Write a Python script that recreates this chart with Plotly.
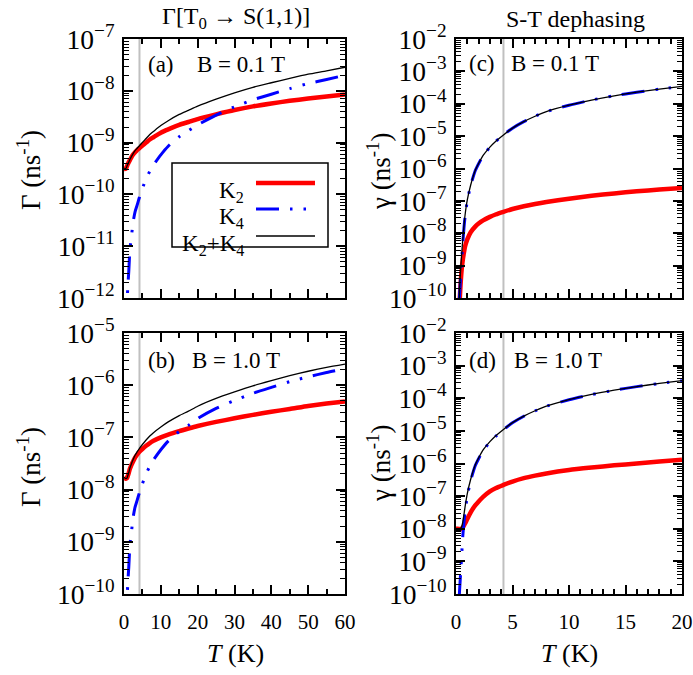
import plotly.graph_objects as go

# ---------------- data ----------------
T_left = [0, 0.5, 0.8, 1.0, 1.3, 1.6, 2, 2.5, 3, 3.5, 4.2, 5, 6, 7, 8, 10, 12, 15, 17.5,
          20, 25, 30, 35, 40, 45, 50, 55, 60]

# (a) Gamma, B = 0.1 T
gamma_a_K2 = [3.1e-10, 3.15e-10, 3.5e-10, 3.8e-10, 4.2e-10, 4.6e-10, 5.2e-10, 5.9e-10, 6.5e-10,
              7.1e-10, 7.8e-10, 8.8e-10, 1.0e-9, 1.15e-9, 1.27e-9, 1.55e-9, 1.8e-9, 2.2e-9,
              2.5e-9, 2.85e-9, 3.5e-9, 4.25e-9, 5.0e-9, 5.7e-9, 6.4e-9, 7.1e-9, 7.8e-9, 8.5e-9]
gamma_a_K4 = [None, 1e-14, 5e-13, 1.5e-12, 3.3e-12, 8.5e-12, 1.5e-11, 3.0e-11, 4.6e-11,
              6.0e-11, 8.8e-11, 1.3e-10, 2.0e-10, 2.8e-10, 3.7e-10, 5.8e-10, 8.5e-10, 1.3e-9,
              1.7e-9, 2.2e-9, 3.4e-9, 4.9e-9, 6.7e-9, 8.6e-9, 1.1e-8, 1.38e-8, 1.65e-8, 2.0e-8]
gamma_a_sum = [3.1e-10, 3.15e-10, 3.5e-10, 3.8e-10, 4.2e-10, 4.7e-10, 5.35e-10, 6.2e-10, 7.0e-10,
               7.7e-10, 8.7e-10, 1.01e-9, 1.2e-9, 1.43e-9, 1.64e-9, 2.13e-9, 2.65e-9, 3.5e-9,
               4.2e-9, 5.05e-9, 6.9e-9, 9.15e-9, 1.17e-8, 1.43e-8, 1.74e-8, 2.09e-8, 2.43e-8,
               2.85e-8]

# (b) Gamma, B = 1.0 T
gamma_b_K2 = [1.73e-8, 1.62e-8, 1.65e-8, 1.8e-8, 2.1e-8, 2.5e-8, 2.95e-8, 3.5e-8, 4.1e-8,
              4.6e-8, 5.3e-8, 6.0e-8, 6.9e-8, 7.8e-8, 8.6e-8, 1.0e-7, 1.13e-7, 1.32e-7,
              1.48e-7, 1.65e-7, 1.98e-7, 2.32e-7, 2.7e-7, 3.1e-7, 3.5e-7, 4.0e-7, 4.45e-7, 4.9e-7]
gamma_b_K4 = [None, 1e-12, 5e-11, 1.5e-10, 3.3e-10, 8.5e-10, 1.5e-9, 3.0e-9, 4.6e-9,
              6.0e-9, 8.8e-9, 1.3e-8, 2.0e-8, 2.8e-8, 3.7e-8, 5.8e-8, 8.5e-8, 1.3e-7,
              1.7e-7, 2.3e-7, 3.6e-7, 5.1e-7, 7.0e-7, 9.1e-7, 1.17e-6, 1.45e-6, 1.75e-6, 2.05e-6]
gamma_b_sum = [1.73e-8, 1.62e-8, 1.66e-8, 1.82e-8, 2.13e-8, 2.59e-8, 3.1e-8, 3.8e-8, 4.56e-8,
               5.2e-8, 6.18e-8, 7.3e-8, 8.9e-8, 1.06e-7, 1.23e-7, 1.58e-7, 1.98e-7, 2.62e-7,
               3.18e-7, 3.95e-7, 5.58e-7, 7.42e-7, 9.7e-7, 1.22e-6, 1.52e-6, 1.85e-6, 2.2e-6,
               2.54e-6]

T_right = [0, 0.2, 0.3, 0.35, 0.4, 0.5, 0.6, 0.7, 0.8, 1.0, 1.3, 1.7, 2.0, 2.4, 3.0, 3.5,
           4.2, 5, 6, 7, 8, 10, 12, 14, 16, 18, 20]

# (c) S-T dephasing, B = 0.1 T
deph_c_K2 = [None, 1e-12, 5e-11, 1.2e-10, 2.5e-10, 7.4e-10, 1.5e-9, 2.5e-9, 3.9e-9, 6.5e-9,
             1.08e-8, 1.6e-8, 2.0e-8, 2.5e-8, 3.2e-8, 3.8e-8, 4.6e-8, 5.6e-8, 6.8e-8, 8.0e-8,
             9.2e-8, 1.17e-7, 1.44e-7, 1.7e-7, 1.97e-7, 2.23e-7, 2.5e-7]
deph_c_K4 = [None, 1e-12, 1e-10, 2e-10, 4e-10, 1.5e-9, 5e-9, 1.4e-8, 3.2e-8, 1.0e-7, 3.0e-7,
             8.5e-7, 1.4e-6, 2.5e-6, 4.55e-6, 6.8e-6, 1.09e-5, 1.76e-5, 2.8e-5, 4.1e-5, 5.7e-5,
             9.0e-5, 1.3e-4, 1.76e-4, 2.27e-4, 2.83e-4, 3.45e-4]
deph_c_sum = [None, 2e-12, 1.5e-10, 3.2e-10, 6.5e-10, 2.2e-9, 6.5e-9, 1.65e-8, 3.6e-8, 1.07e-7,
              3.1e-7, 8.7e-7, 1.42e-6, 2.53e-6, 4.59e-6, 6.84e-6, 1.09e-5, 1.77e-5, 2.81e-5,
              4.11e-5, 5.71e-5, 9.01e-5, 1.3e-4, 1.76e-4, 2.27e-4, 2.83e-4, 3.45e-4]

# (d) S-T dephasing, B = 1.0 T
deph_d_K2 = [1.0e-8, 1.0e-8, 9.8e-9, 9.8e-9, 9.8e-9, 1.0e-8, 1.1e-8, 1.25e-8, 1.45e-8, 2.0e-8,
             3.2e-8, 5.2e-8, 6.8e-8, 9.5e-8, 1.4e-7, 1.75e-7, 2.2e-7, 2.8e-7, 3.55e-7, 4.25e-7,
             4.95e-7, 6.3e-7, 7.5e-7, 8.8e-7, 1.0e-6, 1.15e-6, 1.3e-6]
deph_d_K4 = [None, 1e-12, 1e-10, 2e-10, 4e-10, 1.5e-9, 6e-9, 1.5e-8, 3.2e-8, 1.0e-7, 3.0e-7,
             8.5e-7, 1.4e-6, 2.5e-6, 4.55e-6, 6.8e-6, 1.09e-5, 1.76e-5, 2.8e-5, 4.1e-5, 5.7e-5,
             9.0e-5, 1.3e-4, 1.76e-4, 2.27e-4, 2.83e-4, 3.45e-4]
deph_d_sum = [1.0e-8, 1.0e-8, 9.9e-9, 1.0e-8, 1.02e-8, 1.15e-8, 1.6e-8, 2.65e-8, 4.65e-8,
              1.2e-7, 3.3e-7, 9.0e-7, 1.47e-6, 2.6e-6, 4.69e-6, 6.98e-6, 1.11e-5, 1.79e-5,
              2.84e-5, 4.14e-5, 5.75e-5, 9.06e-5, 1.31e-4, 1.77e-4, 2.28e-4, 2.84e-4, 3.46e-4]

T_liquid_He = 4.2
series_names = ["K<sub>2</sub>", "K<sub>4</sub>", "K<sub>2</sub>+K<sub>4</sub>"]

# ---------------- layout helpers ----------------
FONT = "Liberation Serif"
W, H = 693, 675
ML, MR, MT, MB = 124, 11, 39, 81
PW, PH = W - ML - MR, H - MT - MB


def px(x):
    return (x - ML) / PW


def py(y):
    return 1 - (y - MT) / PH


RED = "#ff0000"
BLUE = "#0000ff"
BLUE_DASH = "23px,11px,2.5px,11px,2.5px,11px"

fig = go.Figure()

panels = [
    ("x", "y", T_left, gamma_a_K2, gamma_a_K4, gamma_a_sum, [px(124), px(345)], [py(298), py(39)], [0, 60], [-12, -7], 10, 5, False),
    ("x2", "y2", T_right, deph_c_K2, deph_c_K4, deph_c_sum, [px(456), px(682)], [py(298), py(39)], [0, 20], [-10, -2], 5, 1, False),
    ("x3", "y3", T_left, gamma_b_K2, gamma_b_K4, gamma_b_sum, [px(124), px(345)], [py(594), py(333)], [0, 60], [-10, -5], 10, 5, True),
    ("x4", "y4", T_right, deph_d_K2, deph_d_K4, deph_d_sum, [px(456), px(682)], [py(594), py(333)], [0, 20], [-10, -2], 5, 1, True),
]

layout_axes = {}
shapes = []
for xa, ya, T, k2, k4, ksum, xd, yd, xr, yr, xdt, xmin, showx in panels:
    fig.add_trace(go.Scatter(x=T, y=k2, xaxis=xa, yaxis=ya, mode="lines", name=series_names[0],
                             line=dict(color=RED, width=4.5, shape="spline", smoothing=0.6),
                             showlegend=False))
    fig.add_trace(go.Scatter(x=T, y=k4, xaxis=xa, yaxis=ya, mode="lines", name=series_names[1],
                             line=dict(color=BLUE, width=3, dash=BLUE_DASH, shape="spline",
                                       smoothing=0.6),
                             showlegend=False))
    fig.add_trace(go.Scatter(x=T, y=ksum, xaxis=xa, yaxis=ya, mode="lines", name=series_names[2],
                             line=dict(color="black", width=1.3, shape="spline", smoothing=0.6),
                             showlegend=False))
    common = dict(showline=True, linecolor="black", linewidth=2, mirror="ticks",
                  ticks="inside", ticklen=9, tickwidth=1.5, tickcolor="black",
                  showgrid=False, zeroline=False, automargin=False,
                  tickfont=dict(family=FONT, size=22, color="black"))
    xkey = "xaxis" + xa[1:]
    ykey = "yaxis" + ya[1:]
    layout_axes[xkey] = dict(common, domain=xd, range=xr, anchor=ya, dtick=xdt, tick0=0,
                             showticklabels=showx, ticklabelstandoff=8,
                             tickfont=dict(family=FONT, size=21, color="black"),
                             minor=dict(ticks="inside", ticklen=5, tickwidth=1.5,
                                        tickcolor="black", dtick=xmin, showgrid=False))
    layout_axes[ykey] = dict(common, domain=yd, range=yr, anchor=xa, type="log", dtick=1,
                             exponentformat="power", ticklabelstandoff=3,
                             minor=dict(ticks="inside", ticklen=5, tickwidth=1.2,
                                        tickcolor="black", dtick="D1", showgrid=False))
    shapes.append(dict(type="line", xref=xa, yref=ya + " domain", x0=T_liquid_He, x1=T_liquid_He,
                       y0=0, y1=1, line=dict(color="#c0c0c0", width=2), layer="below"))

# legend (drawn by hand: labels on the left, samples on the right)
shapes.append(dict(type="rect", xref="paper", yref="paper", x0=px(172), x1=px(328),
                   y0=py(247), y1=py(163), line=dict(color="black", width=1.5),
                   fillcolor="white", layer="above"))
leg_rows = [(183, RED, 4.5, "solid"), (209, BLUE, 3, BLUE_DASH), (236, "black", 1.3, "solid")]
annotations = []
for (yl, col, wd, dsh), name, ty in zip(leg_rows, series_names, [192, 218, 245]):
    shapes.append(dict(type="line", xref="paper", yref="paper", x0=px(256), x1=px(315),
                       y0=py(yl), y1=py(yl), line=dict(color=col, width=wd, dash=dsh),
                       layer="above"))
    annotations.append(dict(text=name, xref="paper", yref="paper", x=px(246), y=py(ty),
                            xanchor="right", yanchor="middle", showarrow=False,
                            font=dict(family=FONT, size=23, color="black")))


def ann(text, x, y, xanchor="center", angle=0, size=23):
    annotations.append(dict(text=text, xref="paper", yref="paper", x=px(x), y=py(y),
                            xanchor=xanchor, yanchor="middle", showarrow=False,
                            textangle=angle, font=dict(family=FONT, size=size, color="black")))


ann("Γ[T<sub>0</sub> → S(1,1)]", 236, 18, size=24)
ann("S-T dephasing", 575, 19, size=24)
ann("Γ (ns<sup>-1</sup>)", 29, 170, angle=-90, size=27)
ann("Γ (ns<sup>-1</sup>)", 29, 467, angle=-90, size=27)
ann("γ (ns<sup>-1</sup>)", 379, 172, angle=-90, size=27)
ann("γ (ns<sup>-1</sup>)", 379, 464, angle=-90, size=27)
ann("<i>T</i> (K)", 235, 653, size=26)
ann("<i>T</i> (K)", 569, 653, size=26)
ann("(a)", 146, 65, xanchor="left")
ann("B = 0.1 T", 195, 65, xanchor="left")
ann("(c)", 467, 64, xanchor="left")
ann("B = 0.1 T", 509, 64, xanchor="left")
ann("(b)", 146, 360, xanchor="left")
ann("B = 1.0 T", 190, 360, xanchor="left")
ann("(d)", 467, 360, xanchor="left")
ann("B = 1.0 T", 512, 360, xanchor="left")

fig.update_layout(
    width=W, height=H,
    margin=dict(l=ML, r=MR, t=MT, b=MB),
    paper_bgcolor="white", plot_bgcolor="white",
    font=dict(family=FONT, size=22, color="black"),
    showlegend=False,
    shapes=shapes,
    annotations=annotations,
    **layout_axes,
)

fig.write_html("out.html", config={"displayModeBar": False},
               post_script="document.body.style.margin='0';document.body.style.padding='0';")
